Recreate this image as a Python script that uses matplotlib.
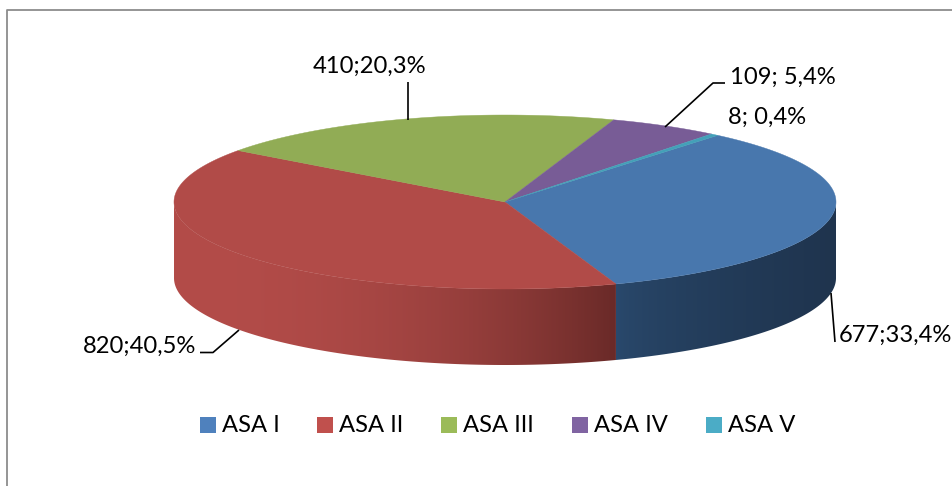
import numpy as np
import matplotlib
matplotlib.use('Agg')
import matplotlib.pyplot as plt
from matplotlib.colors import to_rgb
from matplotlib.patches import Polygon, Rectangle

categorias = ['ASA I', 'ASA II', 'ASA III', 'ASA IV', 'ASA V']
valores = [677, 820, 410, 109, 8]
etiquetas = ['677;33,4%', '820;40,5%', '410;20,3%', '109; 5,4%', '8; 0,4%']
colores = ['#4877ad', '#b14b48', '#91ac55', '#785c96', '#43a0b8']
colores_ley = ['#4f81bd', '#c0504d', '#9bbb59', '#8064a2', '#4bacc6']

plt.rcParams['font.family'] = ['Lato', 'DejaVu Sans']

# geometria de la elipse, en pixeles
cx, cy = 505, 202
rx, ry = 331, 87
prof = 76
inicio = 50.0


def borde(t):
    t = np.radians(t)
    return cx + rx * np.cos(t), cy - ry * np.sin(t)


def pared(t1, t2, c_izq, c_der, pot):
    # pared lateral entre dos angulos, degradado horizontal recortado
    ts = np.linspace(t1, t2, 200)
    xs, ys = borde(ts)
    arriba = list(zip(xs, ys))
    abajo = list(zip(xs[::-1], ys[::-1] + prof))
    x0, x1 = xs.min(), xs.max()
    f = np.linspace(0, 1, 300) ** pot
    a, b = np.array(to_rgb(c_izq)), np.array(to_rgb(c_der))
    grad = (a + (b - a) * f[:, None])[None, :, :]
    im = ax.imshow(grad, extent=[x0, x1, 486, 0], aspect='auto', zorder=1)
    clip = Polygon(arriba + abajo, transform=ax.transData)
    im.set_clip_path(clip)


fig = plt.figure(figsize=(9.52, 4.86), dpi=100)
ax = fig.add_axes([0, 0, 1, 1])
ax.axis('off')

# angulos de cada rebanada (sentido horario)
angulos = np.array(valores) / sum(valores) * 360
fin = inicio - np.cumsum(angulos)
ini = fin + angulos

# solo se ve la mitad frontal
pared(-180, fin[0], '#b34c49', '#6a2a28', 2.2)
pared(fin[0], 0, '#2a4a6e', '#1f344e', 0.6)

ax.set_xlim(0, 952)
ax.set_ylim(486, 0)

# marco del grafico
ax.plot([6.5, 6.5, 952], [486, 10.5, 10.5], color='#8c8c8c', lw=1.3, solid_capstyle='butt')

# cara superior
for i in range(len(valores)):
    ts = np.linspace(ini[i], fin[i], 200)
    xs, ys = borde(ts)
    pts = [(cx, cy)] + list(zip(xs, ys))
    ax.add_patch(Polygon(pts, facecolor=colores[i], edgecolor=colores[i], lw=0.3, zorder=2))

# lineas guia
guia = dict(color='black', lw=1.2, solid_capstyle='butt', zorder=3)
ax.plot([408, 408], [120, 82], **guia)
ax.plot([665, 713, 725], [127, 83, 83], **guia)
ax.plot([831, 835], [293, 342], **guia)
ax.plot([239, 213, 200], [330, 352.5, 352.5], **guia)

# etiquetas
fs = 17.1
ax.text(313, 66, etiquetas[2], fontsize=fs, va='center', ha='left')
ax.text(730, 77, etiquetas[3], fontsize=fs, va='center', ha='left')
ax.text(728, 117, etiquetas[4], fontsize=fs, va='center', ha='left')
ax.text(839, 335, etiquetas[0], fontsize=fs, va='center', ha='left')
ax.text(83, 346, etiquetas[1], fontsize=fs, va='center', ha='left')

# leyenda
xs_ley = [200, 317, 441, 572, 706]
for x, nombre, col in zip(xs_ley, categorias, colores_ley):
    ax.add_patch(Rectangle((x, 417), 16, 16, facecolor=col, edgecolor='none'))
    ax.text(x + 22, 425, nombre, fontsize=fs, va='center', ha='left')

fig.savefig('out.png', dpi=100)
